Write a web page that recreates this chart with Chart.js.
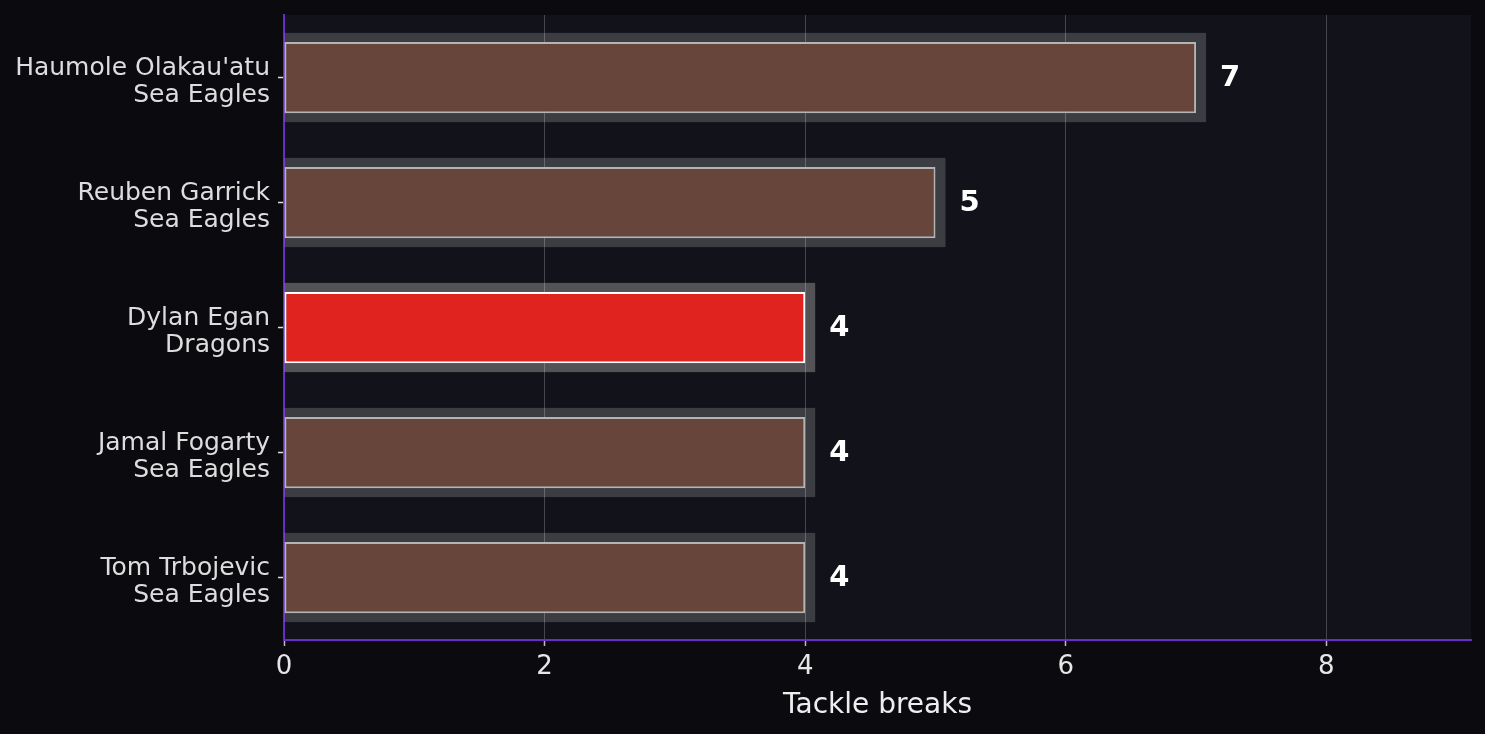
<!DOCTYPE html>
<html>
<head>
<meta charset="utf-8">
<script src="https://cdn.jsdelivr.net/npm/chart.js@4/dist/chart.umd.min.js"></script>
<style>
  html, body { margin: 0; padding: 0; background: #0b0b0f; }
  #wrap { width: 1485px; height: 734px; }
</style>
</head>
<body>
<div id="wrap"><canvas id="breaksChart"></canvas></div>
<script>
const players = ["Haumole Olakau'atu", "Reuben Garrick", "Dylan Egan", "Jamal Fogarty", "Tom Trbojevic"];
const teams = ["Sea Eagles", "Sea Eagles", "Dragons", "Sea Eagles", "Sea Eagles"];
const tackleBreaks = [7, 5, 4, 4, 4];
const highlightTeam = "Dragons";
const xTicks = [0, 2, 4, 6, 8];

const FAMILY = "'DejaVu Sans', sans-serif";

document.addEventListener("DOMContentLoaded", function () {
  const isHi = teams.map((t) => t === highlightTeam);

  // plot background, halo behind each bar, value labels, two-line y labels
  const backdrop = {
    id: "backdrop",
    beforeDraw(chart) {
      const { ctx, chartArea: a } = chart;
      ctx.save();
      ctx.fillStyle = "#12131a";
      ctx.fillRect(a.left, a.top, a.right - a.left, a.bottom - a.top);
      ctx.restore();
    },
    beforeDatasetsDraw(chart) {
      const ctx = chart.ctx;
      const meta = chart.getDatasetMeta(0);
      ctx.save();
      meta.data.forEach((bar, i) => {
        const h = bar.height;
        ctx.fillStyle = isHi[i] ? "rgba(255,255,255,0.27)" : "rgba(255,255,255,0.18)";
        ctx.fillRect(bar.base, bar.y - h / 2 - 9, bar.x - bar.base + 10, h + 18);
      });
      ctx.restore();
    },
    afterDatasetsDraw(chart) {
      const ctx = chart.ctx;
      const meta = chart.getDatasetMeta(0);
      ctx.save();
      ctx.fillStyle = "#ffffff";
      ctx.font = "bold 29px " + FAMILY;
      ctx.textBaseline = "middle";
      ctx.textAlign = "left";
      meta.data.forEach((bar, i) => {
        ctx.fillText(String(tackleBreaks[i]), bar.x + 24, bar.y + 1);
      });
      ctx.restore();
    },
    afterDraw(chart) {
      const ctx = chart.ctx;
      const y = chart.scales.y;
      const right = chart.chartArea.left - 14;
      ctx.save();
      ctx.fillStyle = "#dddddd";
      ctx.font = "25px " + FAMILY;
      ctx.textAlign = "right";
      ctx.textBaseline = "alphabetic";
      players.forEach((p, i) => {
        const cy = y.getPixelForValue(i);
        ctx.fillText(p, right, cy - 2.5);
        ctx.fillText(teams[i], right, cy + 24.5);
      });
      ctx.restore();
    },
  };

  const ctx = document.getElementById("breaksChart").getContext("2d");
  new Chart(ctx, {
    type: "bar",
    data: {
      labels: players.map((p, i) => [p, teams[i]]),
      datasets: [
        {
          data: tackleBreaks,
          backgroundColor: isHi.map((h) => (h ? "#e0231e" : "#67453a")),
          borderColor: isHi.map((h) => (h ? "#ffffff" : "#b4b4b4")),
          borderWidth: 2,
          borderSkipped: false,
          categoryPercentage: 1,
          barPercentage: 0.57,
        },
      ],
    },
    options: {
      indexAxis: "y",
      responsive: true,
      maintainAspectRatio: false,
      animation: false,
      layout: { padding: { top: 15, right: 14, left: 0, bottom: 0 } },
      plugins: {
        legend: { display: false },
        tooltip: { enabled: false },
      },
      scales: {
        x: {
          min: 0,
          max: 9.11,
          afterBuildTicks(scale) {
            scale.ticks = xTicks.map((v) => ({ value: v }));
          },
          afterFit(scale) {
            scale.height = 94;
            scale.paddingLeft = 0;
            scale.paddingRight = 0;
          },
          border: { color: "#6a2cc8", width: 2 },
          grid: {
            color: "rgba(255,255,255,0.22)",
            tickColor: "#bbbbbb",
            tickWidth: 1.5,
            tickLength: 6,
          },
          ticks: {
            color: "#e6e6e6",
            padding: 6,
            font: { family: FAMILY, size: 26 },
          },
          title: {
            display: true,
            text: "Tackle breaks",
            color: "#eeeeee",
            padding: { top: 0, bottom: 11 },
            font: { family: FAMILY, size: 28 },
          },
        },
        y: {
          afterFit(scale) {
            scale.width = 284;
            scale.paddingTop = 0;
            scale.paddingBottom = 0;
          },
          border: { color: "#6a2cc8", width: 2 },
          grid: {
            offset: false,
            drawOnChartArea: false,
            tickColor: "#dddddd",
            tickWidth: 1.5,
            tickLength: 6,
          },
          ticks: { display: false },
        },
      },
    },
    plugins: [backdrop],
  });
});
</script>
</body>
</html>
